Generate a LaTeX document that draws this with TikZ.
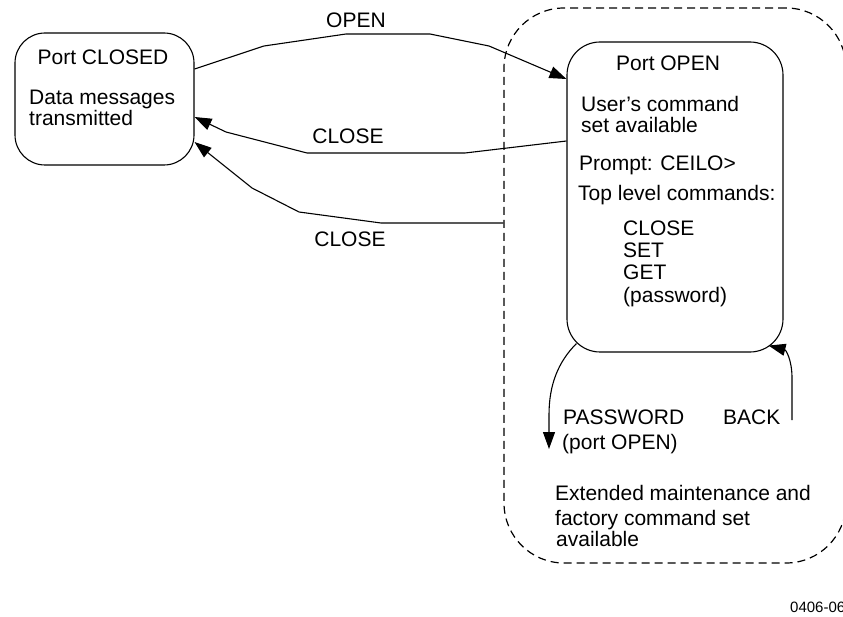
\documentclass[tikz,border=0pt]{standalone}
\usepackage{fontspec}
\setmainfont{Liberation Sans}
\usetikzlibrary{positioning}
\usetikzlibrary{arrows.meta}

\begin{document}
\begin{tikzpicture}[
  x=1pt, y=-1pt,
  state/.style={draw=black,line width=1.1pt,rounded corners=30pt,inner sep=0pt},
  region/.style={draw=black,line width=1.2pt,dash pattern=on 8pt off 5pt,rounded corners=60pt,inner sep=0pt},
  txt/.style={inner sep=0pt,font=\fontsize{21}{22}\selectfont,text height=15pt,text depth=0pt},
  flow/.style={draw=black,line width=1.1pt,-{Triangle[length=17pt,width=12pt]}}
]
  \useasboundingbox (0,0) rectangle (843,617);

  \node[region, minimum width=342pt, minimum height=555pt] (ext) at (675,285.5) {};
  \node[state, minimum width=179pt, minimum height=132pt] (closed) at (104.5,99) {};
  \node[state, rounded corners=33pt, minimum width=216pt, minimum height=310pt] (open) at (675,197) {};

  \node[txt] (c0) at (103,57) {Port CLOSED};
  \node[txt, anchor=west] (c1) at (29,97) {Data messages};
  \node[txt, anchor=west] (c2) at (29,118) {transmitted};

  \node[txt] (o0) at (668,63) {Port OPEN};
  \node[txt, anchor=west] (o1) at (581,104) {User's command};
  \node[txt, anchor=west] (o2) at (581,125) {set available};
  \node[txt, anchor=west] (o3) at (579,163) {Prompt: CEILO>};
  \node[txt, anchor=west] (o4) at (578,193) {Top level commands:};
  \node[txt, anchor=west] (o5) at (623,228) {CLOSE};
  \node[txt, anchor=west] (o6) at (623,250) {SET};
  \node[txt, anchor=west] (o7) at (623,272) {GET};
  \node[txt, anchor=west] (o8) at (623,295) {(password)};

  \node[txt] (l1) at (356,20) {OPEN};
  \node[txt] (l2) at (348,136) {CLOSE};
  \node[txt] (l3) at (350,239) {CLOSE};
  \node[txt, anchor=west] (l4) at (563,417) {PASSWORD};
  \node[txt, anchor=west] (l5) at (562,442) {(port OPEN)};
  \node[txt, anchor=west] (l6) at (723,417) {BACK};

  \node[txt, anchor=west] (x1) at (555,493) {Extended maintenance and};
  \node[txt, anchor=west] (x2) at (555,518) {factory command set};
  \node[txt, anchor=west] (x3) at (556,539) {available};

  \node[txt, anchor=west, font=\fontsize{15}{16}\selectfont, text height=11pt] (fig) at (790,607) {0406-06};

  \coordinate (pwend) at (549,449);
  \coordinate (bkstart) at (792,420);

  \draw[flow] ([yshift=30pt]closed.east) -- (264,46) -- (346,34) -- (430,34) -- (489,46) -- ([yshift=118pt]open.west);
  \draw[flow] ([yshift=56pt]open.west) -- (465,153) -- (307,153) -- (226,132) -- ([yshift=-18pt]closed.east);
  \draw[flow] ([yshift=62.5pt]ext.west) -- (381,223) -- (299,212) -- (252,188) -- ([yshift=-43pt]closed.east);
  \draw[flow] ([xshift=10pt,yshift=9pt]open.south west) .. controls (558,362) and (549,385) .. (549,415) -- (pwend);
  \draw[flow] (bkstart) -- (792,378) .. controls (792,360) and (786,350) .. ([xshift=-15pt,yshift=7pt]open.south east);
\end{tikzpicture}
\end{document}
